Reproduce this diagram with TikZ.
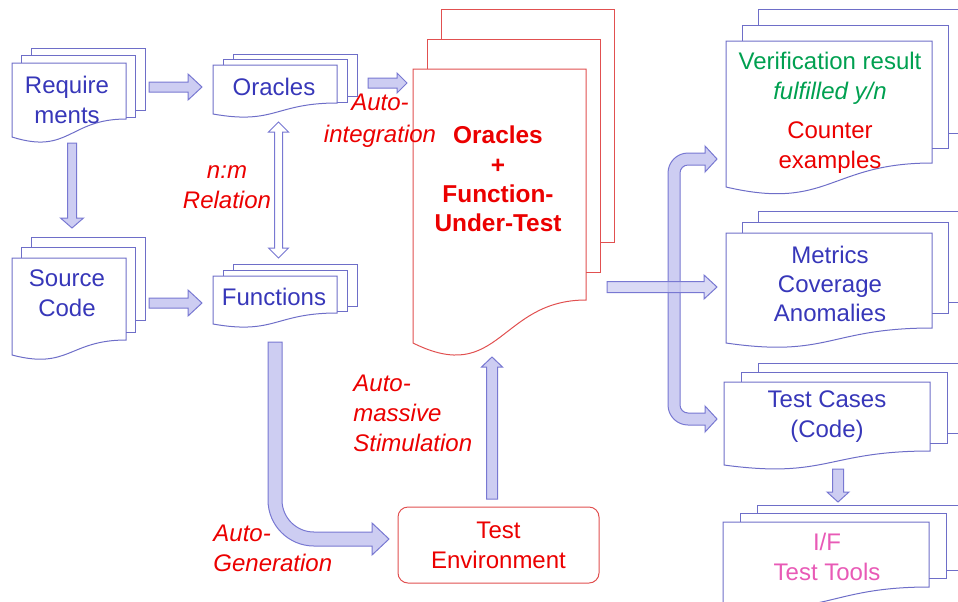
\documentclass[tikz,border=0pt]{standalone}
\usepackage{fontspec}
\setmainfont{Liberation Sans}
\usetikzlibrary{calc}
\definecolor{docblue}{RGB}{110,110,200}
\definecolor{txtblue}{RGB}{55,55,185}
\definecolor{arrfill}{RGB}{205,205,242}
\definecolor{arrline}{RGB}{120,120,210}
\definecolor{redtxt}{RGB}{235,0,0}
\definecolor{reddoc}{RGB}{225,80,80}
\definecolor{greentxt}{RGB}{0,160,80}
\definecolor{pinktxt}{RGB}{232,90,182}
\tikzset{
  docline/.style={line width=0.5pt, line join=miter},
  txt/.style={font=\fontsize{12}{15}\selectfont, align=center, inner sep=0pt},
  lbl/.style={txt, text=redtxt, font=\fontsize{12}{15}\selectfont\itshape},
  fatarr/.style={draw=arrline, fill=arrfill, line width=0.5pt, line join=miter},
  envbox/.style={draw=reddoc, line width=0.5pt, rounded corners=5pt, minimum width=100.5pt,
     minimum height=38pt, align=center, text=redtxt, font=\fontsize{12}{15}\selectfont, inner sep=0pt}
}
% front page of a document stack: x1, x2, top, right bottom, left bottom
\newcommand\frontpage[6][docblue]{%
  \draw[docline,draw=#1] (#2,#4) -- (#3,#4) -- (#3,#5)
    .. controls ({(#2+#3)/2},#5) and ({(#2+#3)/2},{#5+2*(#6-#5)}) .. (#2,#6) -- cycle;}
% two back pages: x1, x2, top, dx, dy, bottom2, bottom3
\newcommand\backpages[8][docblue]{%
  \draw[docline,draw=#1] ({#2+2*#5},{#4-#6}) -- ({#2+2*#5},{#4-2*#6}) -- ({#3+2*#5},{#4-2*#6})
     -- ({#3+2*#5},#8) -- ({#3+#5},#8);
  \draw[docline,draw=#1] ({#2+#5},#4) -- ({#2+#5},{#4-#6}) -- ({#3+#5},{#4-#6})
     -- ({#3+#5},#7) -- (#3,#7);}
% fat arrow: from, to, half shaft, half head, head length (px)
\newcommand\fatarrow[6][]{%
  \path[fatarr,#1] let \p1=(#2), \p2=(#3), \n1={atan2(\y2-\y1,\x2-\x1)},
    \n2={veclen(\x2-\x1,\y2-\y1)} in
    {[shift={(\p1)},rotate=\n1]
     (0pt,{#4*0.5pt}) -- ({\n2-#6*0.5pt},{#4*0.5pt}) -- ({\n2-#6*0.5pt},{#5*0.5pt})
     -- (\n2,0pt) -- ({\n2-#6*0.5pt},{-#5*0.5pt}) -- ({\n2-#6*0.5pt},{-#4*0.5pt})
     -- (0pt,{-#4*0.5pt}) -- cycle};}
\newcommand\dblarrow[6][]{%
  \path[fatarr,#1] let \p1=(#2), \p2=(#3), \n1={atan2(\y2-\y1,\x2-\x1)},
    \n2={veclen(\x2-\x1,\y2-\y1)} in
    {[shift={(\p1)},rotate=\n1]
     ({#6*0.5pt},{#4*0.5pt}) -- ({\n2-#6*0.5pt},{#4*0.5pt}) -- ({\n2-#6*0.5pt},{#5*0.5pt})
     -- (\n2,0pt) -- ({\n2-#6*0.5pt},{-#5*0.5pt}) -- ({\n2-#6*0.5pt},{-#4*0.5pt})
     -- ({#6*0.5pt},{-#4*0.5pt}) -- ({#6*0.5pt},{-#5*0.5pt}) -- (0pt,0pt)
     -- ({#6*0.5pt},{#5*0.5pt}) -- cycle};}
\begin{document}
\begin{tikzpicture}[x=0.5pt,y=-0.5pt]
\useasboundingbox (0,0) rectangle (958,601);
\clip (0,0) rectangle (958,601);

% ---- document stacks ----
% Requirements
\backpages{12}{126}{63}{9.5}{7.5}{117}{110}
\frontpage{12}{126}{63}{119}{137}
% Source Code
\backpages{12}{126}{258}{9.5}{10.5}{332}{320}
\frontpage{12}{126}{258}{340}{355}
% Oracles
\backpages{213}{337}{65}{10}{5.5}{102}{96}
\frontpage{213}{337}{65}{103}{114}
% Functions
\backpages{213}{337}{276}{10}{6}{311}{306}
\frontpage{213}{337}{276}{313}{324}
% Oracles + Function-Under-Test
\backpages[reddoc]{413}{586}{69}{14}{30}{272}{242}
\frontpage[reddoc]{413}{586}{69}{300}{343}
% Verification result
\backpages{726}{932}{41}{16}{16}{148}{133}
\frontpage{726}{932}{41}{163}{187}
% Metrics
\backpages{726}{932}{233}{16}{11}{313}{302}
\frontpage{726}{932}{233}{328}{343}
% Test Cases
\backpages{724}{930}{382}{17}{9.5}{443}{433}
\frontpage{724}{930}{382}{451}{465}
% I/F Test Tools
\backpages{723}{929}{522}{17}{8.5}{578}{570}
\frontpage{723}{929}{522}{587}{603}

% ---- test environment ----
\node[envbox] (env) at (498.5,545) {Test\\Environment};

% ---- arrow end points ----
\coordinate (a1s) at (149,87);   \coordinate (a1e) at (202,87);
\coordinate (a2s) at (72,143);   \coordinate (a2e) at (72,228);
\coordinate (a3s) at (149,303);  \coordinate (a3e) at (202,303);
\coordinate (a4s) at (368,83);   \coordinate (a4e) at (407,83);
\coordinate (d1s) at (278.5,122);\coordinate (d1e) at (278.5,258);
\coordinate (a6s) at (492,499);  \coordinate (a6e) at (492,357);
\coordinate (a7s) at (607,287);  \coordinate (a7e) at (717,287);
\coordinate (a8s) at (838,469);  \coordinate (a8e) at (838,502);

% ---- arrows ----
\fatarrow{a1s}{a1e}{5}{13}{14}
\fatarrow{a2s}{a2e}{4.5}{11.5}{10}
\fatarrow{a3s}{a3e}{5}{13}{14}
\fatarrow{a4s}{a4e}{5}{10}{10}
\dblarrow[fill=white]{d1s}{d1e}{4}{10}{10}
\fatarrow{a6s}{a6e}{5.5}{10.5}{10}
\fatarrow{a8s}{a8e}{5.5}{11}{10}
% bent arrow: functions -> test environment
\draw[fatarr] (268,342) -- (268,500) .. controls (268,525.4) and (288.6,546) .. (314,546)
  -- (372,546) -- (372,555) -- (389,539) -- (372,523) -- (372,532) -- (314,532)
  .. controls (296.3,532) and (282,517.7) .. (282,500) -- (282,342) -- cycle;
% bracket arrow: to verification result and to test cases
\draw[fatarr] (717,159) -- (705,146) -- (705,153) -- (688,153)
  .. controls (677,153) and (668,162) .. (668,173) -- (668,405)
  .. controls (668,416) and (677,425) .. (688,425) -- (705,425) -- (705,432)
  -- (717,419) -- (705,406) -- (705,413) -- (688,413)
  .. controls (683.6,413) and (680,409.4) .. (680,405) -- (680,173)
  .. controls (680,168.6) and (683.6,165) .. (688,165) -- (705,165) -- (705,172) -- cycle;
\fatarrow[fill opacity=0.75]{a7s}{a7e}{5.5}{12}{13}

% ---- texts ----
\node[txt,text=txtblue] (req) at (67,100) {Require\\ments};
\node[txt,text=txtblue] (src) at (67,293) {Source\\Code};
\node[txt,text=txtblue] (orc) at (274,87) {Oracles};
\node[txt,text=txtblue] (fun) at (274,297) {Functions};
\node[txt,text=redtxt,font=\bfseries\fontsize{12.2}{14.7}\selectfont] (fut) at (498,179)
  {Oracles\\+\\Function-\\Under-Test};
\node[txt,text=greentxt] (ver) at (830,78) {Verification result\\\textit{fulfilled y/n}};
\node[txt,text=redtxt] (cex) at (830,147.5) {Counter\\examples};
\node[txt,text=txtblue,font=\fontsize{12}{14.5}\selectfont] (met) at (830,284) {Metrics\\Coverage\\Anomalies};
\node[txt,text=txtblue] (tc) at (827,417) {Test Cases\\(Code)};
\node[txt,text=pinktxt] (itf) at (827,557) {I/F\\Test Tools};

\node[lbl] (nm) at (227,187) {n:m\\Relation};
\node[lbl,font=\fontsize{12}{16}\selectfont\itshape] (ai) at (380,121) {Auto-\\integration};
\node[lbl,align=left,anchor=west] (ag) at (213,548) {Auto-\\Generation};
\node[lbl,align=left,anchor=west] (as) at (353,413) {Auto-\\massive\\Stimulation};
\end{tikzpicture}
\end{document}
